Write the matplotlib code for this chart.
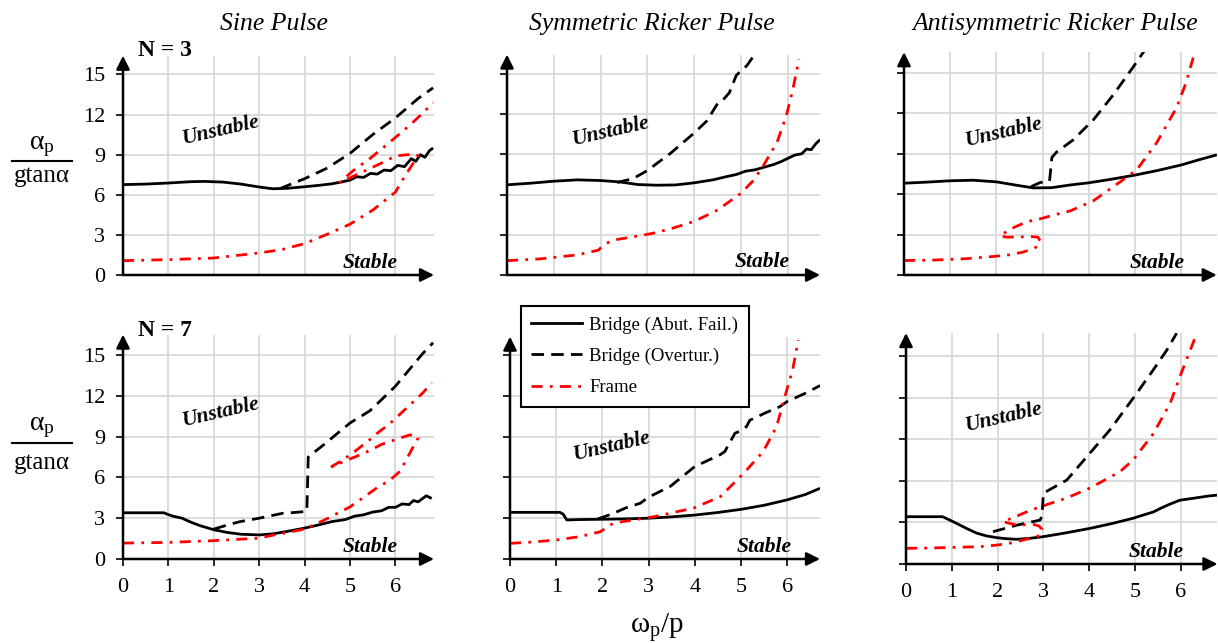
import matplotlib
matplotlib.use('Agg')
import matplotlib.pyplot as plt
from matplotlib.lines import Line2D

plt.rcParams['font.family'] = ['Liberation Serif', 'DejaVu Serif']
plt.rcParams['mathtext.fontset'] = 'custom'
plt.rcParams['mathtext.rm'] = 'Liberation Serif'
plt.rcParams['mathtext.it'] = 'Liberation Serif:italic'
plt.rcParams['mathtext.bf'] = 'Liberation Serif:bold'

# ---------------- data ----------------
titles = ['Sine Pulse', 'Symmetric Ricker Pulse', 'Antisymmetric Ricker Pulse']
row_labels = ['N = 3', 'N = 7']
legend_labels = ['Bridge (Abut. Fail.)', 'Bridge (Overtur.)', 'Frame']
x_ticks = [0, 1, 2, 3, 4, 5, 6]
y_ticks = [0, 3, 6, 9, 12, 15]

# Sine pulse, N = 3
sine3_abut_x = [0, 0.5, 1.0, 1.5, 1.8, 2.2, 2.6, 3.0, 3.3, 3.6, 4.0, 4.3, 4.6, 4.8, 5.0, 5.15, 5.3, 5.45, 5.6, 5.75, 5.9, 6.05, 6.2, 6.35, 6.45, 6.55, 6.65, 6.75, 6.83]
sine3_abut_y = [6.76, 6.8, 6.88, 6.98, 7.0, 6.95, 6.8, 6.58, 6.45, 6.48, 6.6, 6.7, 6.82, 6.95, 7.1, 7.35, 7.3, 7.6, 7.55, 7.85, 7.8, 8.2, 8.1, 8.7, 8.5, 9.0, 8.8, 9.3, 9.5]
sine3_over_x = [3.45, 3.7, 4.0, 4.5, 5.0, 5.5, 6.0, 6.5, 6.83]
sine3_over_y = [6.45, 6.8, 7.2, 8.0, 9.1, 10.5, 11.75, 13.2, 14.0]
sine3_frame_x = [0, 1.0, 2.0, 3.0, 3.5, 4.0, 4.5, 5.0, 5.5, 6.0, 6.2, 6.4, 6.5, 6.45, 6.27, 6.0, 5.65, 5.4, 5.14, 4.9, 4.78, 4.95, 5.14, 5.4, 5.65, 5.9, 6.16, 6.38, 6.6, 6.83]
sine3_frame_y = [1.07, 1.15, 1.27, 1.65, 1.9, 2.35, 3.05, 3.8, 4.85, 6.2, 7.35, 8.4, 8.9, 9.05, 9.0, 8.9, 8.3, 7.9, 7.5, 7.1, 6.9, 7.45, 8.0, 8.6, 9.3, 10.0, 10.75, 11.4, 12.1, 12.9]

# Symmetric Ricker pulse, N = 3
sym3_abut_x = [0, 0.5, 1.0, 1.5, 2.0, 2.4, 2.8, 3.2, 3.6, 4.0, 4.4, 4.7, 4.9, 5.1, 5.3, 5.5, 5.7, 5.85, 6.0, 6.15, 6.3, 6.4, 6.5, 6.6, 6.69]
sym3_abut_y = [6.73, 6.85, 7.0, 7.1, 7.05, 6.95, 6.75, 6.7, 6.72, 6.88, 7.1, 7.35, 7.5, 7.75, 7.85, 8.05, 8.25, 8.45, 8.7, 8.95, 9.05, 9.4, 9.35, 9.8, 10.1]
sym3_over_x = [2.35, 2.7, 3.0, 3.5, 4.0, 4.27, 4.5, 4.6, 4.75, 4.9, 5.05, 5.12, 5.3]
sym3_over_y = [6.9, 7.2, 7.8, 9.1, 10.6, 11.5, 12.8, 13.0, 13.6, 14.9, 15.4, 15.6, 16.5]
sym3_frame_x = [0, 0.7, 1.5, 1.95, 2.1, 2.35, 2.7, 3.1, 3.5, 4.0, 4.5, 5.0, 5.25, 5.45, 5.77, 5.97, 6.11, 6.24]
sym3_frame_y = [1.07, 1.2, 1.5, 1.85, 2.35, 2.65, 2.85, 3.1, 3.45, 4.0, 4.85, 6.1, 7.0, 8.0, 9.9, 11.9, 13.9, 16.1]

# Antisymmetric Ricker pulse, N = 3
anti3_abut_x = [0, 0.5, 1.0, 1.5, 2.0, 2.4, 2.8, 3.2, 3.6, 4.0, 4.5, 5.0, 5.5, 6.0, 6.4, 6.77]
anti3_abut_y = [6.8, 6.88, 6.98, 7.02, 6.9, 6.67, 6.45, 6.47, 6.67, 6.83, 7.1, 7.4, 7.75, 8.15, 8.55, 8.9]
anti3_over_x = [2.75, 2.95, 3.15, 3.2, 3.3, 3.66, 4.1, 4.52, 4.96, 5.2]
anti3_over_y = [6.55, 6.85, 6.95, 8.7, 9.1, 10.0, 11.5, 13.3, 15.4, 16.6]
anti3_frame_x = [0, 0.6, 1.3, 1.93, 2.3, 2.58, 2.8, 2.9, 2.95, 2.9, 2.75, 2.5, 2.23, 2.08, 2.3, 2.66, 2.94, 3.25, 3.6, 4.1, 4.68, 5.04, 5.47, 5.9, 6.1, 6.26]
anti3_frame_y = [1.07, 1.1, 1.2, 1.37, 1.5, 1.7, 1.95, 2.15, 2.5, 2.8, 2.85, 2.82, 2.8, 2.9, 3.4, 3.95, 4.15, 4.45, 4.75, 5.5, 6.9, 7.8, 9.8, 12.4, 14.2, 16.1]

# Sine pulse, N = 7
sine7_abut_x = [0, 0.5, 0.9, 0.97, 1.1, 1.3, 1.5, 1.7, 2.0, 2.3, 2.6, 3.0, 3.3, 3.6, 4.0, 4.3, 4.6, 4.9, 5.1, 5.3, 5.5, 5.7, 5.85, 6.0, 6.15, 6.3, 6.4, 6.5, 6.6, 6.68, 6.8]
sine7_abut_y = [3.4, 3.4, 3.4, 3.3, 3.15, 3.0, 2.7, 2.45, 2.15, 1.95, 1.82, 1.77, 1.85, 2.02, 2.27, 2.5, 2.75, 2.9, 3.15, 3.25, 3.45, 3.55, 3.8, 3.8, 4.05, 4.0, 4.3, 4.2, 4.45, 4.65, 4.45]
sine7_over_x = [2.0, 2.3, 2.58, 3.0, 3.53, 3.7, 4.05, 4.08, 4.42, 5.0, 5.44, 6.0, 6.6, 6.83]
sine7_over_y = [2.2, 2.5, 2.75, 3.0, 3.37, 3.4, 3.5, 7.5, 8.4, 10.0, 10.9, 12.7, 15.1, 15.9]
sine7_frame_x = [0, 1.0, 2.0, 3.0, 3.3, 3.7, 4.0, 4.42, 5.0, 5.58, 5.88, 6.1, 6.28, 6.42, 6.5, 6.45, 6.31, 6.02, 5.69, 5.44, 5.15, 4.85, 4.6, 4.85, 5.1, 5.4, 5.62, 5.88, 6.31, 6.6, 6.8]
sine7_frame_y = [1.17, 1.22, 1.35, 1.53, 1.75, 2.0, 2.2, 2.84, 3.83, 5.2, 5.8, 6.44, 7.55, 8.42, 8.9, 9.1, 9.12, 8.8, 8.42, 7.98, 7.56, 7.15, 6.8, 7.3, 7.9, 8.67, 9.3, 9.96, 11.3, 12.2, 12.94]

# Symmetric Ricker pulse, N = 7
sym7_abut_x = [0, 0.5, 1.08, 1.15, 1.23, 1.5, 1.95, 2.5, 3.0, 3.5, 4.0, 4.5, 5.0, 5.5, 6.0, 6.4, 6.71]
sym7_abut_y = [3.43, 3.43, 3.43, 3.3, 2.87, 2.9, 2.92, 2.95, 3.0, 3.1, 3.23, 3.42, 3.65, 3.95, 4.35, 4.75, 5.2]
sym7_over_x = [1.9, 2.2, 2.5, 2.82, 3.0, 3.47, 4.0, 4.55, 4.65, 4.73, 4.87, 4.98, 5.12, 5.19, 5.5, 5.84, 6.0, 6.4, 6.71]
sym7_over_y = [2.95, 3.3, 3.75, 4.1, 4.55, 5.34, 6.8, 7.67, 7.9, 8.4, 9.25, 9.4, 9.74, 10.2, 10.7, 11.2, 11.58, 12.2, 12.75]
sym7_frame_x = [0, 0.5, 1.01, 1.5, 1.95, 2.24, 2.67, 3.1, 3.97, 4.55, 5.05, 5.48, 5.77, 5.95, 6.12, 6.24]
sym7_frame_y = [1.15, 1.25, 1.4, 1.64, 2.0, 2.64, 2.87, 3.1, 3.74, 4.58, 6.27, 7.9, 9.74, 11.94, 13.95, 16.1]

# Antisymmetric Ricker pulse, N = 7
anti7_abut_x = [0, 0.5, 0.8, 1.03, 1.3, 1.54, 1.75, 1.98, 2.2, 2.42, 2.7, 3.0, 3.5, 4.02, 4.5, 4.96, 5.2, 5.4, 5.55, 5.75, 5.98, 6.3, 6.6, 6.8]
anti7_abut_y = [3.41, 3.41, 3.41, 3.05, 2.6, 2.23, 2.03, 1.9, 1.82, 1.78, 1.85, 1.97, 2.25, 2.57, 2.92, 3.3, 3.55, 3.75, 4.0, 4.3, 4.6, 4.75, 4.9, 4.97]
anti7_over_x = [1.9, 2.42, 2.93, 2.97, 3.0, 3.05, 3.51, 3.95, 4.45, 4.96, 5.4, 5.69, 5.91]
anti7_over_y = [2.33, 2.8, 3.17, 3.5, 5.1, 5.2, 6.05, 7.74, 9.66, 11.95, 14.0, 15.4, 16.65]
anti7_frame_x = [0, 0.5, 1.03, 1.62, 2.0, 2.34, 2.5, 2.78, 2.93, 2.97, 2.9, 2.78, 2.42, 2.12, 2.38, 2.7, 3.0, 3.5, 4.02, 4.67, 4.96, 5.4, 5.77, 5.98, 6.31]
anti7_frame_y = [1.13, 1.15, 1.2, 1.25, 1.37, 1.54, 1.68, 1.9, 2.05, 2.5, 2.75, 2.85, 2.8, 3.05, 3.4, 3.85, 4.2, 4.75, 5.48, 6.65, 7.5, 9.4, 11.6, 13.5, 16.3]

series = [
    [(sine3_abut_x, sine3_abut_y), (sine3_over_x, sine3_over_y), (sine3_frame_x, sine3_frame_y)],
    [(sym3_abut_x, sym3_abut_y), (sym3_over_x, sym3_over_y), (sym3_frame_x, sym3_frame_y)],
    [(anti3_abut_x, anti3_abut_y), (anti3_over_x, anti3_over_y), (anti3_frame_x, anti3_frame_y)],
    [(sine7_abut_x, sine7_abut_y), (sine7_over_x, sine7_over_y), (sine7_frame_x, sine7_frame_y)],
    [(sym7_abut_x, sym7_abut_y), (sym7_over_x, sym7_over_y), (sym7_frame_x, sym7_frame_y)],
    [(anti7_abut_x, anti7_abut_y), (anti7_over_x, anti7_over_y), (anti7_frame_x, anti7_frame_y)],
]

# ---------------- layout ----------------
W, H = 1218, 643
fig = plt.figure(figsize=(W / 100, H / 100), dpi=100)


def fx(px):
    return px / W


def fy(py):
    return 1 - py / H


# (x0 px, y0 px, px per x unit, px per y unit, xmax, ymax)
layout = [
    (123, 275, 45.4, 13.37, 6.85, 16.4),
    (507, 275, 46.8, 13.4, 6.69, 16.45),
    (904, 275, 46.2, 13.5, 6.77, 16.5),
    (123, 559, 45.4, 13.6, 6.85, 16.5),
    (510, 559, 46.2, 13.6, 6.71, 16.35),
    (906, 564, 45.8, 13.87, 6.8, 16.65),
]
unstable_pos = [(2.14, 10.8), (2.22, 10.7), (2.16, 10.6), (2.14, 10.8), (2.19, 8.3), (2.14, 10.6)]
stable_pos = [(5.44, 0.9), (5.45, 1.0), (5.47, 0.9), (5.44, 0.9), (5.5, 0.85), (5.47, 0.87)]

styles = [
    dict(color='black', lw=2.0, ls='-'),
    dict(color='black', lw=2.0, ls=(0, (4.5, 2.6))),
    dict(color='#ff0000', lw=2.0, ls=(0, (4.0, 2.6, 1.0, 2.6))),
]

for i, (x0, y0, sx, sy, xmax, ymax) in enumerate(layout):
    ax = fig.add_axes([fx(x0), fy(y0), xmax * sx / W, ymax * sy / H])
    ax.set_xlim(0, xmax)
    ax.set_ylim(0, ymax)
    for s in ax.spines.values():
        s.set_visible(False)
    ax.set_xticks(x_ticks)
    ax.set_yticks(y_ticks)
    ax.grid(True, color='#d9d9d9', lw=1.3)
    ax.set_axisbelow(True)
    col = i % 3
    row = i // 3
    ax.tick_params(axis='y', direction='out', length=5, width=1.2, pad=8,
                   labelsize=16, labelleft=(col == 0))
    if row == 1:
        ax.tick_params(axis='x', direction='out', length=5, width=1.2, pad=9,
                       labelsize=16, labelbottom=True)
    else:
        ax.tick_params(axis='x', length=0, labelbottom=False)

    for (xs, ys), st in zip(series[i], styles):
        ax.plot(xs, ys, solid_capstyle='butt', dash_capstyle='butt', **st, zorder=3)

    # axes with arrows
    ax.annotate('', xy=(xmax, 0), xytext=(0, 0), annotation_clip=False,
                arrowprops=dict(arrowstyle='-|>', color='black', lw=1.8,
                                mutation_scale=20, shrinkA=0, shrinkB=0), zorder=5)
    ax.annotate('', xy=(0, ymax), xytext=(0, 0), annotation_clip=False,
                arrowprops=dict(arrowstyle='-|>', color='black', lw=1.8,
                                mutation_scale=20, shrinkA=0, shrinkB=0), zorder=5)

    ux, uy = unstable_pos[i]
    ax.text(ux, uy, 'Unstable', fontsize=15.5, fontweight='bold', style='italic',
            rotation=13, ha='center', va='center', zorder=6)
    sxp, syp = stable_pos[i]
    ax.text(sxp, syp, 'Stable', fontsize=15.5, fontweight='bold', style='italic',
            ha='center', va='center', zorder=6)

# titles
for t, cx in zip(titles, [274, 652, 1055]):
    fig.text(fx(cx), fy(24), t, fontsize=18.5, style='italic', ha='center', va='center')

# row labels
for lab, cy in zip(row_labels, [50, 331]):
    fig.text(fx(138), fy(cy), lab, fontsize=17, fontweight='bold', ha='left', va='center')

# y labels (fractions)
for ytop, yline, ybot in [(147, 161, 176), (428, 443, 463)]:
    fig.text(fx(42), fy(ytop), r'$\mathrm{\alpha_p}$', fontsize=20, ha='center', va='center')
    fig.add_artist(Line2D([fx(12), fx(72)], [fy(yline), fy(yline)], color='black', lw=1.5))
    fig.text(fx(42), fy(ybot), 'gtanα', fontsize=18, ha='center', va='center')

# x label
fig.text(fx(657), fy(627), r'$\mathrm{\omega_p/p}$', fontsize=21, ha='center', va='center')

# legend
handles = [Line2D([], [], **st) for st in styles]
leg = fig.legend(handles, legend_labels, loc='upper left',
                 bbox_to_anchor=(fx(521), fy(306)), frameon=True, fancybox=False,
                 edgecolor='black', framealpha=1, fontsize=13.5, handlelength=2.7,
                 handletextpad=0.4, labelspacing=0.75, borderpad=0.55, borderaxespad=0)
leg.get_frame().set_linewidth(1.5)
leg.set_zorder(10)

fig.savefig('out.png', dpi=100)
